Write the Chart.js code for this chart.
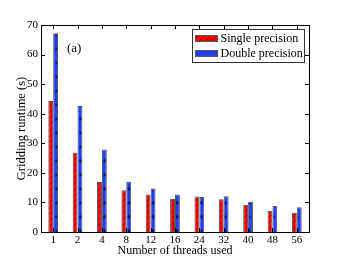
<!DOCTYPE html>
<html>
<head>
<meta charset="utf-8">
<script src="https://cdn.jsdelivr.net/npm/chart.js@4.4.1/dist/chart.umd.min.js"></script>
<style>
  html, body { margin: 0; padding: 0; background: #fff; }
  #wrap { width: 344px; height: 258px; }
</style>
</head>
<body>
<div id="wrap"><canvas id="chart"></canvas></div>
<script>
/* --------------- Data --------------------- */
const threads = ["1", "2", "4", "8", "12", "16", "24", "32", "40", "48", "56"];
const singlePrecision = [44.3, 26.9, 16.9, 14.1, 12.7, 11.2, 12.0, 11.1, 9.2, 7.2, 6.5];
const doublePrecision = [67.2, 42.6, 27.9, 17.0, 14.7, 12.7, 11.8, 12.1, 10.2, 8.8, 8.4];
const yTicks = [0, 10, 20, 30, 40, 50, 60, 70];

const serif = "'Liberation Serif', 'DejaVu Serif', serif";

/* --------------- Hatch patterns --------------------- */
function hatchRed() {
  const c = document.createElement("canvas");
  c.width = 6; c.height = 6;
  const g = c.getContext("2d");
  g.fillStyle = "#ff0000";
  g.fillRect(0, 0, 6, 6);
  g.strokeStyle = "rgba(60,0,0,0.8)";
  g.lineWidth = 0.7;
  g.beginPath();
  g.moveTo(0, 6); g.lineTo(6, 0);
  g.moveTo(-3, 3); g.lineTo(3, -3);
  g.moveTo(3, 9); g.lineTo(9, 3);
  g.stroke();
  return g.createPattern(c, "repeat");
}
function starBlue() {
  const c = document.createElement("canvas");
  c.width = 6; c.height = 14;
  const g = c.getContext("2d");
  g.fillStyle = "#1f3cff";
  g.fillRect(0, 0, 6, 14);
  g.strokeStyle = "rgba(0,0,60,0.8)";
  g.lineWidth = 0.6;
  g.beginPath();
  for (let k = 0; k < 5; k++) {
    const a = -Math.PI / 2 + k * 4 * Math.PI / 5;
    const x = 3 + 2 * Math.cos(a), y = 7 + 2 * Math.sin(a);
    if (k === 0) g.moveTo(x, y); else g.lineTo(x, y);
  }
  g.closePath();
  g.stroke();
  return g.createPattern(c, "repeat");
}
const redFill = hatchRed();
const blueFill = starBlue();

/* --------------- Inward ticks, frame, legend, label --------------------- */
const decor = {
  id: "decor",
  afterDraw(chart) {
    const ctx = chart.ctx;
    const a = chart.chartArea;
    const xs = chart.scales.x, ys = chart.scales.y;
    ctx.save();
    ctx.strokeStyle = "#000";
    ctx.lineWidth = 1;
    ctx.beginPath();
    xs.ticks.forEach((t, i) => {
      const px = Math.round(xs.getPixelForTick(i)) + 0.5;
      ctx.moveTo(px, a.bottom); ctx.lineTo(px, a.bottom - 4);
      ctx.moveTo(px, a.top); ctx.lineTo(px, a.top + 4);
    });
    ys.ticks.forEach((t, i) => {
      const py = Math.round(ys.getPixelForTick(i)) + 0.5;
      ctx.moveTo(a.left, py); ctx.lineTo(a.left + 4, py);
      ctx.moveTo(a.right, py); ctx.lineTo(a.right - 4, py);
    });
    ctx.stroke();
    ctx.strokeRect(Math.round(a.left) + 0.5, Math.round(a.top) + 0.5,
      Math.round(a.right - a.left), Math.round(a.bottom - a.top));

    // panel label
    ctx.fillStyle = "#000";
    ctx.font = "13px " + serif;
    ctx.textBaseline = "middle";
    ctx.textAlign = "left";
    ctx.fillText("(a)", a.left + 26, a.top + 24);

    // legend box
    const bx = 192.5, by = 29.5, bw = 112, bh = 33;
    ctx.fillStyle = "#fff";
    ctx.fillRect(bx, by, bw, bh);
    ctx.strokeStyle = "#333";
    ctx.strokeRect(bx, by, bw, bh);
    chart.data.datasets.forEach((ds, i) => {
      const y = by + 9 + i * 15;
      ctx.fillStyle = ds.backgroundColor;
      ctx.fillRect(bx + 3, y - 3, 22, 6);
      ctx.strokeStyle = "#555";
      ctx.strokeRect(bx + 3, y - 3, 22, 6);
      ctx.fillStyle = "#000";
      ctx.font = "12px " + serif;
      ctx.fillText(ds.label, bx + 28, y);
    });
    ctx.restore();
  }
};

new Chart(document.getElementById("chart"), {
  type: "bar",
  plugins: [decor],
  data: {
    labels: threads,
    datasets: [
      { label: "Single precision", data: singlePrecision, backgroundColor: redFill,
        borderColor: "#555", borderWidth: 1 },
      { label: "Double precision", data: doublePrecision, backgroundColor: blueFill,
        borderColor: "#555", borderWidth: 1 },
    ],
  },
  options: {
    responsive: true,
    maintainAspectRatio: false,
    animation: false,
    layout: { padding: { top: 25, right: 35, left: 0, bottom: 0 } },
    datasets: { bar: { categoryPercentage: 0.4, barPercentage: 1 } },
    plugins: { legend: { display: false }, tooltip: { enabled: false } },
    scales: {
      x: {
        grid: { display: false, drawTicks: false },
        border: { display: false },
        ticks: { color: "#000", padding: 2, font: { family: serif, size: 11 } },
        title: { display: true, text: "Number of threads used", color: "#000",
          padding: { top: -2, bottom: 0 }, font: { family: serif, size: 12 } },
        afterFit(s) { s.height = 26; },
      },
      y: {
        min: 0, max: 70,
        afterBuildTicks(s) { s.ticks = yTicks.map(v => ({ value: v })); },
        grid: { display: false, drawTicks: false },
        border: { display: false },
        ticks: { color: "#000", padding: 3, font: { family: serif, size: 11 } },
        title: { display: true, text: "Gridding runtime (s)", color: "#000",
          padding: { top: 14, bottom: 0 }, font: { family: serif, size: 12.5 } },
        afterFit(s) { s.width = 41; },
      },
    },
  },
});
</script>
</body>
</html>
